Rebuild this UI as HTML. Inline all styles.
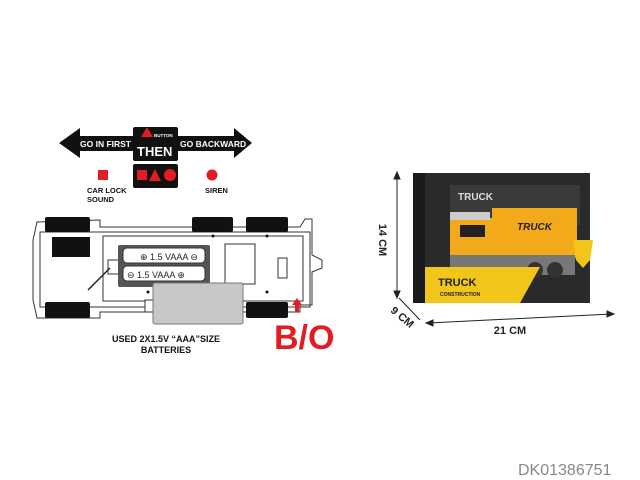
<!DOCTYPE html>
<html><head><style>
html,body{margin:0;padding:0;background:#fff;width:640px;height:480px;overflow:hidden}
svg{display:block}
text{font-family:"Liberation Sans",Arial,sans-serif;font-weight:bold}
</style></head><body>
<svg width="640" height="480" viewBox="0 0 640 480">
<polygon points="59,143 80,128 80,136 234,136 234,128 252,143 234,158 234,151 80,151 80,158" fill="#111"/>
<rect x="133" y="127" width="45" height="34" rx="2" fill="#111"/>
<text x="80" y="147" fill="#fff" font-size="8.5">GO IN FIRST</text>
<text x="180" y="147" fill="#fff" font-size="8.5">GO BACKWARD</text>
<polygon points="147,127 141,137 153,137" fill="#e31b23"/>
<text x="154" y="137" fill="#fff" font-size="4.5">BUTTON</text>
<text x="137" y="156" fill="#fff" font-size="13">THEN</text>
<rect x="133" y="164" width="45" height="24" rx="2" fill="#111"/>
<rect x="137" y="170" width="10" height="10" fill="#e31b23"/>
<polygon points="155,169 149,181 161,181" fill="#e31b23"/>
<circle cx="170" cy="175" r="6" fill="#e31b23"/>
<rect x="98" y="170" width="10" height="10" fill="#e31b23"/>
<text x="87" y="193" fill="#111" font-size="7.5">CAR LOCK</text>
<text x="87" y="202" fill="#111" font-size="7.5">SOUND</text>
<circle cx="212" cy="175" r="5.5" fill="#e31b23"/>
<text x="205" y="193" fill="#111" font-size="7.5">SIREN</text>
<g fill="#fff" stroke="#333" stroke-width="1">
<path d="M37,222 L100,220 L100,227 L300,227 L305,219 L312,219 L312,255 L322,260 L322,268 L312,272 L312,305 L300,305 L300,312 L100,312 L100,318 L37,318 L33,300 L33,240 Z"/>
<rect x="40" y="232" width="270" height="75" fill="none"/>
<rect x="103" y="236" width="200" height="65" fill="none"/>
<rect x="225" y="244" width="30" height="40"/>
<rect x="278" y="258" width="9" height="20"/>
<rect x="108" y="260" width="12" height="14"/>
<rect x="145" y="300" width="10" height="12"/>
</g>
<g fill="#111">
<rect x="45" y="217" width="45" height="15" rx="2"/>
<rect x="192" y="217" width="41" height="15" rx="2"/>
<rect x="246" y="217" width="42" height="15" rx="2"/>
<rect x="52" y="237" width="38" height="20"/>
<rect x="45" y="302" width="45" height="16" rx="2"/>
<rect x="246" y="302" width="42" height="16" rx="2"/>
<circle cx="213" cy="236" r="1.5"/><circle cx="267" cy="236" r="1.5"/>
<circle cx="148" cy="292" r="1.5"/><circle cx="267" cy="292" r="1.5"/>
</g>
<rect x="118" y="245" width="92" height="42" rx="2" fill="#555"/>
<rect x="123" y="248" width="82" height="15" rx="4" fill="#fff" stroke="#333"/>
<rect x="123" y="266" width="82" height="15" rx="4" fill="#fff" stroke="#333"/>
<text x="140" y="260" font-size="9" fill="#222" style="font-weight:normal">⊕ 1.5  VAAA ⊖</text>
<text x="127" y="278" font-size="9" fill="#222" style="font-weight:normal">⊖  1.5  VAAA   ⊕</text>
<line x1="88" y1="290" x2="110" y2="268" stroke="#222" stroke-width="1.5"/>
<rect x="153" y="283" width="90" height="41" rx="2" fill="#c8c8c8" stroke="#777"/>
<polygon points="297,298 292,305 302,305" fill="#e31b23"/>
<rect x="295" y="305" width="4" height="7" fill="#e31b23"/>
<text x="274" y="349" fill="#e31b23" font-size="34">B/O</text>
<text x="166" y="342" text-anchor="middle" fill="#111" font-size="9">USED 2X1.5V “AAA”SIZE</text>
<text x="166" y="353" text-anchor="middle" fill="#111" font-size="9">BATTERIES</text>
<rect x="413" y="173" width="177" height="130" fill="#2a2a2a"/>
<rect x="413" y="173" width="12" height="130" fill="#1a1a1a"/>
<rect x="450" y="185" width="130" height="40" fill="#3a3a3a"/>
<rect x="492" y="208" width="85" height="50" fill="#f2a91a"/>
<rect x="450" y="218" width="45" height="40" fill="#f2a91a"/>
<rect x="450" y="212" width="40" height="8" fill="#ccc"/>
<rect x="460" y="225" width="25" height="12" fill="#222"/>
<rect x="450" y="255" width="125" height="20" fill="#777"/>
<circle cx="535" cy="270" r="8" fill="#333"/><circle cx="555" cy="270" r="8" fill="#333"/>
<text x="517" y="230" font-size="10" fill="#222" font-style="italic">TRUCK</text>
<polygon points="425,267 540,267 520,303 425,303" fill="#f2c51b"/>
<text x="438" y="286" font-size="11" fill="#222">TRUCK</text>
<text x="440" y="296" font-size="5" fill="#222">CONSTRUCTION</text>
<text x="458" y="200" font-size="10" fill="#ddd">TRUCK</text>
<polygon points="573,240 593,240 590,260 583,268 576,260" fill="#f2c51b"/>
<text x="592" y="192" font-size="8" fill="#fff">3+</text>
<g stroke="#222" stroke-width="1" fill="#222">
<line x1="397" y1="175" x2="397" y2="295"/>
<polygon points="397,172 394,179 400,179"/><polygon points="397,298 394,291 400,291"/>
<line x1="399" y1="298" x2="420" y2="320"/>
<line x1="428" y1="323" x2="612" y2="314"/>
<polygon points="426,323 433,320 433,326"/><polygon points="614,314 607,311 607,317"/>
</g>
<text transform="translate(379,240) rotate(90)" text-anchor="middle" font-size="11" fill="#222">14 CM</text>
<text transform="translate(400,320) rotate(40)" text-anchor="middle" font-size="11" fill="#222">9 CM</text>
<text x="510" y="334" text-anchor="middle" font-size="11" fill="#222">21 CM</text>
<text x="518" y="475" font-size="16" fill="#888" style="font-weight:normal">DK01386751</text>
</svg>
</body></html>
